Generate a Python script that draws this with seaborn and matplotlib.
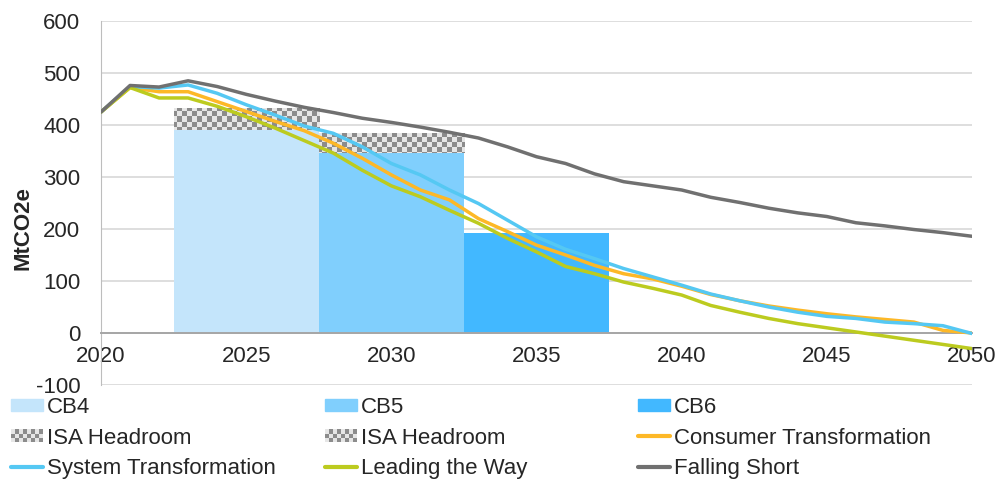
import numpy as np
import pandas as pd
import matplotlib
matplotlib.use("Agg")
import matplotlib.pyplot as plt
import seaborn as sns
from matplotlib.patches import Patch, Rectangle
from matplotlib.lines import Line2D
from matplotlib.legend_handler import HandlerBase

# --- data -------------------------------------------------------------
years = list(range(2020, 2051))

consumer = [425, 472, 464, 464, 445, 426, 407, 389, 365, 336, 304, 275, 256, 220,
            195, 169, 150, 130, 114, 104, 90, 74, 62, 52, 44, 37, 31, 26, 21, 5, 0]
system = [425, 474, 471, 477, 461, 439, 419, 398, 384, 358, 326, 304, 275, 249,
          217, 185, 161, 143, 124, 108, 92, 75, 62, 50, 40, 32, 28, 21, 18, 14, -1]
leading = [425, 472, 452, 452, 436, 416, 394, 370, 346, 313, 283, 262, 236, 211,
           182, 156, 128, 114, 98, 86, 73, 53, 40, 28, 18, 10, 2, -6, -14, -22, -30]
falling = [425, 476, 473, 485, 474, 459, 446, 434, 424, 413, 405, 396, 386, 375,
           358, 339, 326, 306, 291, 283, 275, 261, 251, 240, 231, 224, 212, 206, 199, 193, 186]

budgets = ["CB4", "CB5", "CB6"]
budget_start = [2023, 2028, 2033]      # first year of each 5-year period
budget_value = [390, 346, 193]         # average annual budget
headroom = [43, 39, 0]                 # ISA headroom on top of the budget

scenarios = ["Consumer Transformation", "System Transformation",
             "Leading the Way", "Falling Short"]

# --- style ------------------------------------------------------------
sns.set_style("white")
plt.rcParams["font.family"] = ["Liberation Sans", "DejaVu Sans"]
plt.rcParams["font.size"] = 16
plt.rcParams["axes.unicode_minus"] = False

bar_colors = ["#C4E5FB", "#80CFFD", "#42B8FF"]
line_colors = {"Consumer Transformation": "#FDB827",
               "System Transformation": "#55C8F3",
               "Leading the Way": "#BCCB1F",
               "Falling Short": "#707070"}
chk_dark, chk_light = "#8C8C8C", "#E6E6E6"

fig = plt.figure(figsize=(9.99, 4.79), dpi=100)
ax = fig.add_axes([101 / 999, 1 - 385 / 479, 871 / 999, 364 / 479])

# carbon budget bars
bars = ax.bar([s - 0.5 for s in budget_start], budget_value, width=5, align="edge",
              color=bar_colors, edgecolor="none", zorder=2)
head = ax.bar([s - 0.5 for s in budget_start], headroom, bottom=budget_value, width=5,
              align="edge", color="none", edgecolor="none", zorder=2)

ax.set_xlim(2020, 2050)
ax.set_ylim(-100, 600)

# checkerboard fill for the ISA headroom, clipped to each headroom bar
nx, ny = int(871 / 5), int(364 / 5)
board = (np.add.outer(np.arange(ny), np.arange(nx)) % 2).astype(float)
cmap = matplotlib.colors.ListedColormap([chk_light, chk_dark])
for p, h in zip(head.patches, headroom):
    if h <= 0:
        continue
    im = ax.imshow(board, extent=(2020, 2050, -100, 600), cmap=cmap,
                   interpolation="nearest", aspect="auto", zorder=2.5, origin="lower")
    im.set_clip_path(p)
ax.set_xlim(2020, 2050)
ax.set_ylim(-100, 600)

# scenario lines
df = pd.DataFrame({"year": years * 4,
                   "value": consumer + system + leading + falling,
                   "scenario": np.repeat(scenarios, len(years))})
sns.lineplot(data=df, x="year", y="value", hue="scenario", hue_order=scenarios,
             palette=line_colors, linewidth=2.5, legend=False, ax=ax, zorder=3)

# axes cosmetics
ax.set_yticks(range(-100, 601, 100))
ax.set_xticks(range(2020, 2051, 5))
ax.grid(axis="y", color="#D4D4D4", linewidth=1.1, zorder=0)
ax.set_axisbelow(True)
for side in ["top", "right"]:
    ax.spines[side].set_visible(False)
ax.spines["left"].set_color("#BDBDBD")
ax.spines["bottom"].set_position(("data", 0))
ax.spines["bottom"].set_color("#A6A6A6")
ax.spines["bottom"].set_linewidth(1.4)
ax.spines["bottom"].set_zorder(2.8)
ax.tick_params(axis="y", length=0, pad=15, labelsize=16)
ax.tick_params(axis="x", length=4, width=1.2, color="#A6A6A6", pad=5, labelsize=16)
ax.set_xlabel("")
ax.set_ylabel("MtCO2e", fontsize=16, fontweight="bold")
ax.yaxis.set_label_coords(-0.078, 0.43)


# legend
class CheckerHandler(HandlerBase):
    def create_artists(self, legend, orig_handle, xdescent, ydescent,
                       width, height, fontsize, trans):
        cols, rows = 8, 3
        cw, ch = width / cols, height / rows
        out = []
        for i in range(cols):
            for j in range(rows):
                c = chk_dark if (i + j) % 2 else chk_light
                out.append(Rectangle((-xdescent + i * cw, -ydescent + j * ch), cw, ch,
                                     facecolor=c, edgecolor="none", transform=trans))
        return out


class Checker:
    pass


def line_handle(name):
    return Line2D([], [], color=line_colors[name], linewidth=3)


columns = [
    [(Patch(color=bar_colors[0]), "CB4"), (Checker(), "ISA Headroom"),
     (line_handle("System Transformation"), "System Transformation")],
    [(Patch(color=bar_colors[1]), "CB5"), (Checker(), "ISA Headroom"),
     (line_handle("Leading the Way"), "Leading the Way")],
    [(Patch(color=bar_colors[2]), "CB6"),
     (line_handle("Consumer Transformation"), "Consumer Transformation"),
     (line_handle("Falling Short"), "Falling Short")],
]
col_x = [11, 325, 638]
for x0, col in zip(col_x, columns):
    leg = fig.legend([h for h, _ in col], [l for _, l in col], loc="upper left",
                     bbox_to_anchor=(x0 / 999, 1 - 397 / 479), frameon=False,
                     borderpad=0, borderaxespad=0, handlelength=1.45, handleheight=0.5,
                     handletextpad=0.18, labelspacing=0.43, fontsize=16,
                     handler_map={Checker: CheckerHandler()})

fig.savefig("out.png", dpi=100)
